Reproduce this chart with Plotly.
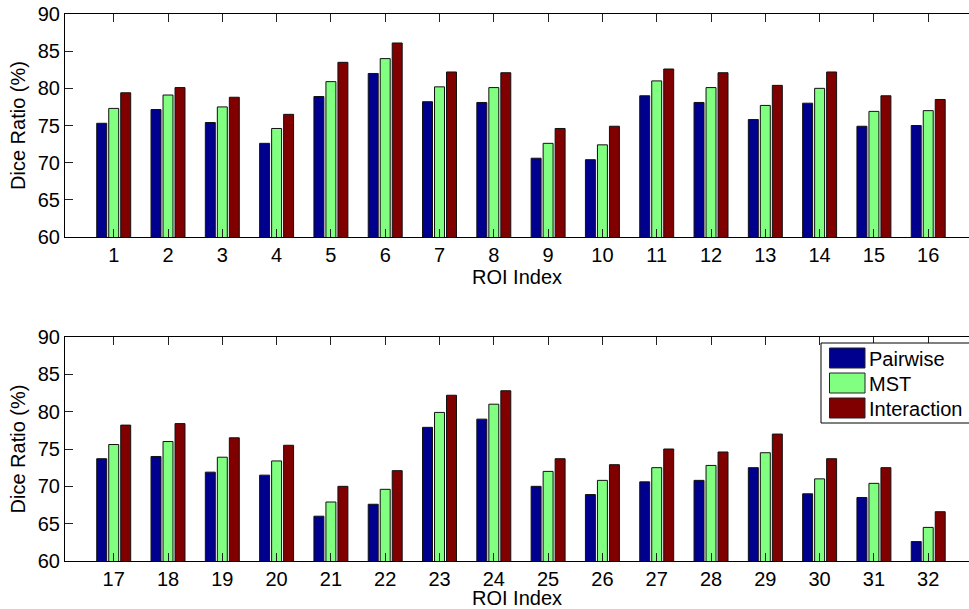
import plotly.graph_objects as go

roi_top = list(range(1, 17))
roi_bottom = list(range(17, 33))

pairwise_top = [75.3, 77.15, 75.4, 72.6, 78.9, 82.0, 78.2, 78.1, 70.6, 70.4, 79.0, 78.1, 75.8, 78.0, 74.9, 75.0]
mst_top = [77.3, 79.1, 77.5, 74.6, 80.9, 84.0, 80.2, 80.1, 72.6, 72.4, 81.0, 80.1, 77.7, 80.0, 76.9, 77.0]
interaction_top = [79.4, 80.1, 78.8, 76.5, 83.5, 86.1, 82.2, 82.1, 74.6, 74.9, 82.6, 82.1, 80.4, 82.2, 79.0, 78.5]

pairwise_bottom = [73.7, 74.0, 71.9, 71.5, 66.0, 67.6, 77.9, 79.0, 70.0, 68.9, 70.6, 70.8, 72.5, 69.0, 68.5, 62.6]
mst_bottom = [75.6, 76.0, 73.9, 73.4, 67.9, 69.6, 79.9, 81.0, 72.0, 70.8, 72.5, 72.8, 74.5, 71.0, 70.4, 64.5]
interaction_bottom = [78.2, 78.4, 76.5, 75.5, 70.0, 72.1, 82.2, 82.8, 73.7, 72.9, 75.0, 74.6, 77.0, 73.7, 72.5, 66.6]

series_names = ["Pairwise", "MST", "Interaction"]
series_colors = ["#00008F", "#80FF80", "#800000"]
y_ticks = [60, 65, 70, 75, 80, 85, 90]

# page body margin is reset to 0 by post_script, so the figure fills the window
W, H = 969, 609
ML, MR, MT, MB = 65, 0, 14, 48
PW = W - ML - MR
PH = H - MT - MB


def px_x(px):
    return (px - ML) / PW


def px_y(py):
    return (H - MB - py) / PH


FONT = "Liberation Sans, Arial, Helvetica, sans-serif"
fig = go.Figure()

panels = [
    ("x", "y", roi_top, [pairwise_top, mst_top, interaction_top]),
    ("x2", "y2", roi_bottom, [pairwise_bottom, mst_bottom, interaction_bottom]),
]
for xa, ya, xs, vals in panels:
    for name, color, v in zip(series_names, series_colors, vals):
        fig.add_trace(go.Bar(
            x=xs, y=v, name=name, xaxis=xa, yaxis=ya,
            marker=dict(color=color, line=dict(color="#111111", width=1)),
            showlegend=False,
        ))

top_dom = [px_y(237), 1.0]
bot_dom = [0.0, px_y(337)]

common_x = dict(
    showline=True, linecolor="black", linewidth=1, mirror="ticks",
    ticks="inside", ticklen=8, tickcolor="#222222", showgrid=False, zeroline=False,
    tickfont=dict(family=FONT, size=20, color="black"), ticklabelstandoff=0,
    title=dict(text="ROI Index", font=dict(family=FONT, size=20, color="black"), standoff=0),
    tickmode="array",
)
common_y = dict(
    showline=True, linecolor="black", linewidth=1, mirror=False,
    ticks="inside", ticklen=8, tickcolor="#222222", showgrid=False, zeroline=False,
    tickfont=dict(family=FONT, size=20, color="black"), ticklabeloverflow="allow",
    title=dict(text="Dice Ratio (%)", font=dict(family=FONT, size=20, color="black"), standoff=6),
    tickmode="array", tickvals=y_ticks, ticktext=[str(t) for t in y_ticks],
    range=[60, 90],
)

fig.update_layout(
    width=W, height=H,
    margin=dict(l=ML, r=MR, t=MT, b=MB, autoexpand=False),
    paper_bgcolor="white", plot_bgcolor="white",
    barmode="group", bargap=0.337, bargroupgap=0.17,
    font=dict(family=FONT, size=20, color="black"),
    showlegend=False,
    xaxis=dict(common_x, domain=[0, 1], anchor="y", range=[0.103, 16.751],
               tickvals=roi_top, ticktext=[str(v) for v in roi_top]),
    yaxis=dict(common_y, domain=top_dom, anchor="x"),
    xaxis2=dict(common_x, domain=[0, 1], anchor="y2", range=[16.103, 32.751],
                tickvals=roi_bottom, ticktext=[str(v) for v in roi_bottom]),
    yaxis2=dict(common_y, domain=bot_dom, anchor="x2"),
)

# custom legend (MATLAB style) in the lower panel's upper right; its right side is off-canvas
lx0, lx1, ly0, ly1 = px_x(821), 1.0, px_y(423), px_y(343)
box_line = dict(color="black", width=1)
shapes = [
    dict(type="rect", xref="paper", yref="paper", x0=lx0, x1=lx1, y0=ly0, y1=ly1,
         line=dict(width=0), fillcolor="white", layer="above"),
    dict(type="line", xref="paper", yref="paper", x0=lx0, x1=lx1, y0=ly1, y1=ly1,
         line=box_line, layer="above"),
    dict(type="line", xref="paper", yref="paper", x0=lx0, x1=lx1, y0=ly0, y1=ly0,
         line=box_line, layer="above"),
    dict(type="line", xref="paper", yref="paper", x0=lx0, x1=lx0, y0=ly0, y1=ly1,
         line=box_line, layer="above"),
]
annotations = []
sw_tops = [348, 373, 398]
for name, color, top in zip(series_names, series_colors, sw_tops):
    shapes.append(dict(type="rect", xref="paper", yref="paper",
                       x0=px_x(829.5), x1=px_x(865), y0=px_y(top + 20), y1=px_y(top),
                       line=dict(color="#222222", width=1), fillcolor=color, layer="above"))
    annotations.append(dict(xref="paper", yref="paper", x=px_x(867), y=px_y(top + 10.5),
                            text=name, showarrow=False, xanchor="left", yanchor="middle",
                            font=dict(family=FONT, size=20, color="black")))
fig.update_layout(shapes=shapes, annotations=annotations)

fig.write_html(
    "out.html",
    config={"displayModeBar": False},
    post_script="document.body.style.margin='0px';document.body.style.overflow='hidden';",
)
